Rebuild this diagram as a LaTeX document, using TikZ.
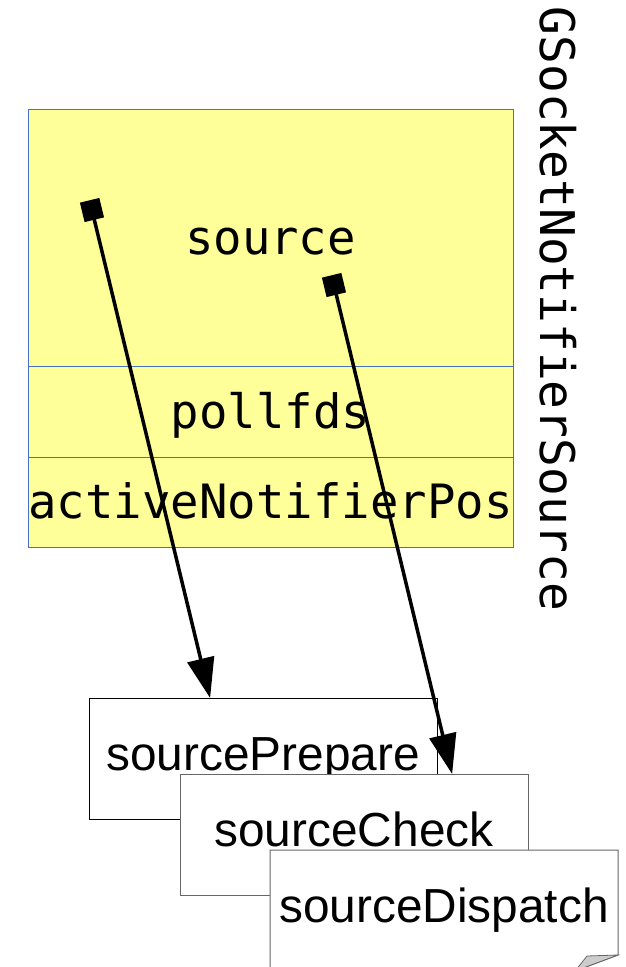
\documentclass[tikz,border=0pt]{standalone}
\usepackage{fontspec}
\setmainfont{Liberation Sans}
\setmonofont{DejaVu Sans Mono}
\usetikzlibrary{arrows.meta, positioning, calc}
\definecolor{fieldfill}{RGB}{255,255,153}
\definecolor{fieldline}{RGB}{69,114,196}
\definecolor{boxline}{RGB}{102,102,102}
\definecolor{foldgray}{RGB}{204,204,204}
\tikzset{
  field/.style={rectangle, draw=fieldline, line width=1pt, fill=fieldfill,
                minimum width=485pt, inner sep=0pt, outer sep=0pt,
                text height=36pt, text depth=3pt,
                font=\ttfamily\fontsize{47.3}{56}\selectfont},
  fnbox/.style={rectangle, draw=black, line width=1pt, fill=white,
                minimum width=348pt, minimum height=121pt, inner sep=0pt, outer sep=0pt,
                text height=34pt, text depth=10pt,
                font=\fontsize{47.8}{56}\selectfont},
  title/.style={font=\ttfamily\fontsize{47.8}{56}\selectfont, inner sep=0pt},
  ptr/.style={{Square[length=20pt,width=20pt]}-{Triangle[length=40pt,width=27pt]},
              line width=3.5pt},
}

\begin{document}
\begin{tikzpicture}[x=1pt,y=-1pt]
\useasboundingbox (0,0) rectangle (626,967);
\clip (0,0) rectangle (626,967);

% Struktura GSocketNotifierSource
\node[field, minimum height=257pt] (src) at (270.5,237.5) {source};
\node[field, minimum height=91pt, below=0pt of src] (poll) {pollfds};
\node[field, minimum height=90pt, below=0pt of poll] (pos) {activeNotifierPos};
\node[title, rotate=-90, anchor=base] (ttl) at (540,309) {GSocketNotifierSource};

% Funkcje zrodla
\node[fnbox] (prep) at (263,758.5) {sourcePrepare};
\node[fnbox, draw=boxline] (check) at (354,834.5) {sourceCheck};
\node[fnbox, draw=none] (disp) at (444,910.5) {sourceDispatch};
\draw[boxline, line width=1pt] (disp.south west) -- (disp.north west) -- (disp.north east)
  -- ($(disp.south east)+(0,-16)$) -- ($(disp.south east)+(-43,0)$) -- cycle;
\draw[boxline, line width=0.8pt, fill=foldgray] ($(disp.south east)+(0,-16)$)
  -- ($(disp.south east)+(-31,-15)$) -- ($(disp.south east)+(-43,0)$) -- cycle;

% Wskazniki
\coordinate (srcA) at (89.6,200.3);
\coordinate (srcB) at (331.6,275.3);
\draw[ptr] (srcA) -- ($(prep.north west)!0.348!(prep.north east)$);
\draw[ptr] (srcB) -- ($(check.north west)!0.782!(check.north east)$);

\end{tikzpicture}
\end{document}
